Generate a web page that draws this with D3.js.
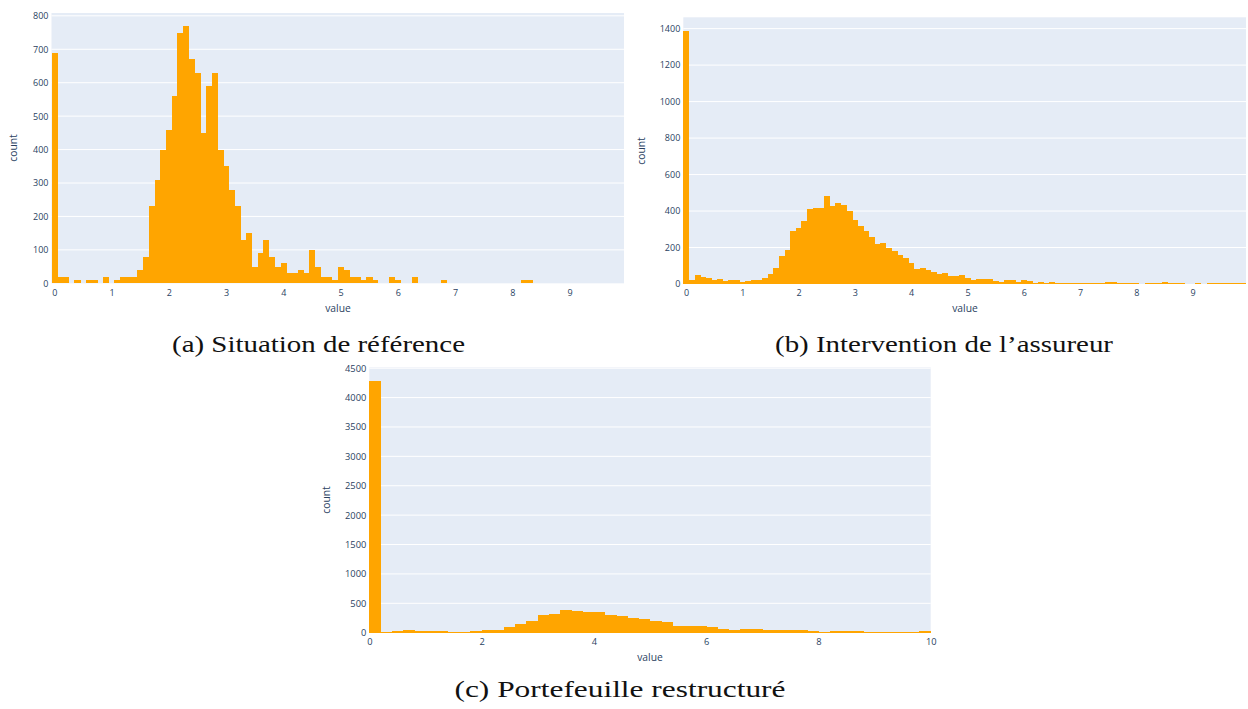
<!DOCTYPE html>
<html>
<head>
<meta charset="utf-8">
<script src="https://cdn.jsdelivr.net/npm/d3@7"></script>
<style>
  html, body { margin: 0; padding: 0; background: #fff; }
  svg { display: block; }
  .cap { font-family: "Liberation Serif", "Times New Roman", Times, serif; }
</style>
</head>
<body>
<svg id="chart" width="1248" height="709"></svg>
<script>
// ---------- DATA ----------
// (a) Situation de référence : bins of width 0.1 centred on 0.0 … 9.9
const countsA = [
  690, 20, 20, 0, 10, 0, 10, 10, 0, 20,
  0, 10, 20, 20, 20, 40, 80, 230, 310, 400,
  460, 560, 750, 770, 670, 630, 450, 590, 630, 400,
  350, 280, 230, 130, 150, 50, 90, 130, 80, 50,
  60, 30, 30, 40, 30, 100, 50, 20, 20, 10,
  50, 40, 20, 20, 10, 20, 10, 0, 0, 20,
  10, 0, 0, 20, 0, 0, 0, 0, 10, 0,
  0, 0, 0, 0, 0, 0, 0, 0, 0, 0,
  0, 0, 10, 10, 0, 0, 0, 0, 0, 0,
  0, 0, 0, 0, 0, 0, 0, 0, 0, 0
];
// (b) Intervention de l'assureur : bins of width 0.1 centred on 0.0 … 9.9
const countsB = [
  1387, 22, 47, 38, 33, 22, 26, 16, 20, 20,
  11, 15, 20, 20, 35, 55, 89, 155, 188, 290,
  305, 345, 411, 415, 415, 482, 426, 442, 435, 400,
  351, 320, 290, 259, 221, 225, 197, 179, 157, 141,
  116, 82, 88, 75, 68, 57, 59, 44, 44, 49,
  31, 22, 26, 29, 26, 15, 11, 20, 20, 11,
  20, 18, 7, 9, 7, 9, 5, 5, 5, 5,
  5, 5, 5, 3, 3, 10, 10, 3, 3, 3,
  3, 0, 3, 3, 3, 10, 5, 3, 3, 0,
  0, 3, 0, 3, 3, 3, 3, 3, 3, 3
];
// (c) Portefeuille restructuré : bins of width 0.2 starting at 0 … 9.8
const countsC = [
  4290, 11, 28, 45, 28, 28, 28, 11, 11, 28,
  40, 51, 97, 155, 205, 295, 318, 380, 370, 355,
  352, 307, 284, 252, 233, 205, 182, 119, 114, 108,
  91, 68, 45, 68, 68, 40, 40, 40, 40, 23,
  11, 28, 28, 28, 11, 11, 11, 11, 11, 28
];

const ticksXA = [0, 1, 2, 3, 4, 5, 6, 7, 8, 9];
const ticksYA = [0, 100, 200, 300, 400, 500, 600, 700, 800];
const ticksXB = [0, 1, 2, 3, 4, 5, 6, 7, 8, 9];
const ticksYB = [0, 200, 400, 600, 800, 1000, 1200, 1400];
const ticksXC = [0, 2, 4, 6, 8, 10];
const ticksYC = [0, 500, 1000, 1500, 2000, 2500, 3000, 3500, 4000, 4500];

const captions = ["(a) Situation de référence", "(b) Intervention de l\u2019assureur", "(c) Portefeuille restructuré"];
const xTitle = "value";
const yTitle = "count";

// ---------- DRAW ----------
const svg = d3.select("#chart");
const BAR = "#FFA500", BG = "#E5ECF6", GRID = "#ffffff", TXT = "#2a3f5f";

function panel(cfg) {
  const { left, right, top, bottom, counts, start, width, xDomain, yMax, xTicks, yTicks } = cfg;
  const x = d3.scaleLinear().domain(xDomain).range([left, right]);
  const y = d3.scaleLinear().domain([0, yMax]).range([bottom, top]);
  const g = svg.append("g");

  g.append("rect").attr("x", left).attr("y", top)
    .attr("width", right - left).attr("height", bottom - top).attr("fill", BG);

  // horizontal gridlines
  g.append("g").selectAll("line").data(yTicks.filter(d => d > 0)).join("line")
    .attr("x1", left).attr("x2", right)
    .attr("y1", d => y(d)).attr("y2", d => y(d))
    .attr("stroke", GRID).attr("stroke-width", 1);

  // bars
  const edges = counts.map((_, i) => start + i * width);
  g.append("g").attr("shape-rendering", "crispEdges").selectAll("rect").data(counts).join("rect")
    .attr("x", (d, i) => x(edges[i]))
    .attr("width", (d, i) => x(edges[i] + width) - x(edges[i]) + 0.4)
    .attr("y", d => y(d))
    .attr("height", d => bottom - y(d))
    .attr("fill", BAR);

  // axes
  const ax = g.append("g").attr("transform", `translate(0,${bottom})`)
    .call(d3.axisBottom(x).tickValues(xTicks).tickSize(0).tickPadding(cfg.xPad || 6).tickFormat(d3.format("d")));
  const ay = g.append("g").attr("transform", `translate(${left},0)`)
    .call(d3.axisLeft(y).tickValues(yTicks).tickSize(0).tickPadding(3).tickFormat(d3.format("d")));
  [ax, ay].forEach(a => {
    a.select(".domain").remove();
    a.selectAll("text").attr("fill", TXT).attr("font-family", "'Open Sans', sans-serif")
      .attr("font-size", cfg.tickSize || 9);
  });

  // titles
  g.append("text").attr("x", cfg.xTitleX).attr("y", cfg.xTitleY)
    .attr("text-anchor", "middle").attr("dominant-baseline", "middle")
    .attr("font-family", "'Open Sans', sans-serif").attr("font-size", 10.3).attr("fill", TXT)
    .text(xTitle);
  g.append("text").attr("transform", `translate(${cfg.yTitleX},${cfg.yTitleY}) rotate(-90)`)
    .attr("text-anchor", "middle").attr("dominant-baseline", "middle")
    .attr("font-family", "'Open Sans', sans-serif").attr("font-size", 10.3).attr("fill", TXT)
    .text(yTitle);
}

panel({
  left: 51.5, right: 624, top: 13, bottom: 283.3,
  counts: countsA, start: -0.05, width: 0.1, xDomain: [-0.05, 9.95], yMax: 808.5,
  xTicks: ticksXA, yTicks: ticksYA,
  xTitleX: 338, xTitleY: 309, yTitleX: 14, yTitleY: 148
});
panel({
  left: 683.3, right: 1246, top: 17.3, bottom: 284,
  counts: countsB, start: -0.05, width: 0.1, xDomain: [-0.05, 9.95], yMax: 1462,
  xTicks: ticksXB, yTicks: ticksYB,
  xTitleX: 965, xTitleY: 309, yTitleX: 642, yTitleY: 151
});
panel({
  left: 369.3, right: 930.7, top: 367.3, bottom: 632.7,
  counts: countsC, start: 0, width: 0.2, xDomain: [0, 10], yMax: 4515,
  xTicks: ticksXC, yTicks: ticksYC, tickSize: 9.3,
  xTitleX: 650, xTitleY: 658, yTitleX: 327, yTitleY: 500
});

// captions
const capPos = [
  { x: 318.5, y: 352, w: 293 },
  { x: 944, y: 352, w: 338 },
  { x: 620, y: 697, w: 331 }
];
captions.forEach((c, i) => {
  svg.append("text").attr("class", "cap")
    .attr("x", capPos[i].x - capPos[i].w / 2).attr("y", capPos[i].y)
    .attr("font-size", 24).attr("fill", "#111")
    .attr("textLength", capPos[i].w).attr("lengthAdjust", "spacingAndGlyphs")
    .text(c);
});
</script>
</body>
</html>
